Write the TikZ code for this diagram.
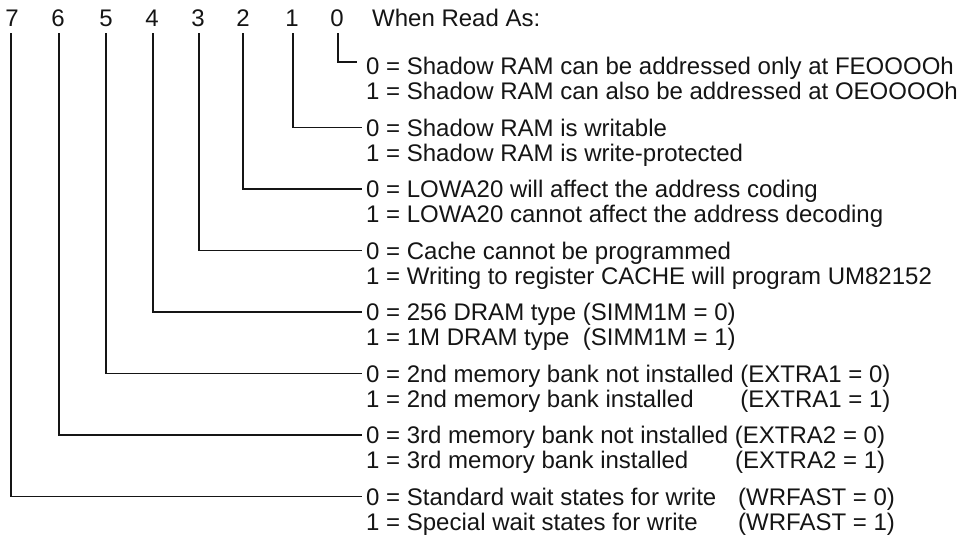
\documentclass[tikz,border=0pt]{standalone}
\usepackage{fontspec}
\setmainfont{Liberation Sans}
\definecolor{ink}{HTML}{151515}
\begin{document}
\begin{tikzpicture}[x=1pt,y=-1pt,
  lbl/.style={font=\fontsize{24}{26}\selectfont, inner sep=0pt, text height=17pt, text depth=0pt, text=ink},
  txt/.style={lbl, anchor=west},
  parr/.style={lbl, anchor=east},
  parl/.style={lbl, anchor=west},
  wire/.style={draw=ink, line width=1.8pt}]
\fill[white] (0,0) rectangle (962,539);
\useasboundingbox (0,0) rectangle (962,539);
% bit labels
\node[lbl] (b7) at (12,18) {7};
\node[lbl] (b6) at (58,18) {6};
\node[lbl] (b5) at (106,18) {5};
\node[lbl] (b4) at (152,18) {4};
\node[lbl] (b3) at (198,18) {3};
\node[lbl] (b2) at (243,18) {2};
\node[lbl] (b1) at (292,18) {1};
\node[lbl] (b0) at (337,18) {0};
\node[txt] (hdr) at (372,18) {When Read As:};
% line tops
\coordinate (t7) at (11,33);
\coordinate (t6) at (59,33);
\coordinate (t5) at (106,33);
\coordinate (t4) at (153,33);
\coordinate (t3) at (199,33);
\coordinate (t2) at (243,33);
\coordinate (t1) at (293,33);
\coordinate (t0) at (338,33);
% texts
\node[txt] (r0a) at (366,66) {0 = Shadow RAM can be addressed only at FEOOOOh};
\node[txt] (r0b) at (366,91) {1 = Shadow RAM can also be addressed at OEOOOOh};
\node[txt] (r1a) at (366,127.5) {0 = Shadow RAM is writable};
\node[txt] (r1b) at (366,152.5) {1 = Shadow RAM is write-protected};
\node[txt] (r2a) at (366,189) {0 = LOWA20 will affect the address coding};
\node[txt] (r2b) at (366,214) {1 = LOWA20 cannot affect the address decoding};
\node[txt] (r3a) at (366,250.5) {0 = Cache cannot be programmed};
\node[txt] (r3b) at (366,275.5) {1 = Writing to register CACHE will program UM82152};
\node[txt] (r4a) at (366,312) {0 = 256 DRAM type (SIMM1M = 0)};
\node[txt] (r4b) at (366,337) {1 = 1M DRAM type};
\node[parr] (p4b) at (r4a.east |- r4b) {(SIMM1M = 1)};
\node[txt] (r5a) at (366,373.5) {0 = 2nd memory bank not installed (EXTRA1 = 0)};
\node[txt] (r5b) at (366,398.5) {1 = 2nd memory bank installed};
\node[parr] (p5b) at (r5a.east |- r5b) {(EXTRA1 = 1)};
\node[txt] (r6a) at (366,435) {0 = 3rd memory bank not installed (EXTRA2 = 0)};
\node[txt] (r6b) at (366,460) {1 = 3rd memory bank installed};
\node[parr] (p6b) at (r6a.east |- r6b) {(EXTRA2 = 1)};
\node[txt] (r7a) at (366,496.5) {0 = Standard wait states for write};
\node[parl] (p7a) at (738,496.5) {(WRFAST = 0)};
\node[txt] (r7b) at (366,521.5) {1 = Special wait states for write};
\node[parr] (p7b) at (p7a.east |- r7b) {(WRFAST = 1)};
% connectors
\draw[wire] (t0) |- ([shift={(-9pt,4pt)}]r0a.west);
\draw[wire] (t1) |- ([xshift=-4pt]r1a.west);
\draw[wire] (t2) |- ([xshift=-4pt]r2a.west);
\draw[wire] (t3) |- ([xshift=-4pt]r3a.west);
\draw[wire] (t4) |- ([xshift=-4pt]r4a.west);
\draw[wire] (t5) |- ([xshift=-4pt]r5a.west);
\draw[wire] (t6) |- ([xshift=-4pt]r6a.west);
\draw[wire] (t7) |- ([xshift=-4pt]r7a.west);
\end{tikzpicture}
\end{document}
